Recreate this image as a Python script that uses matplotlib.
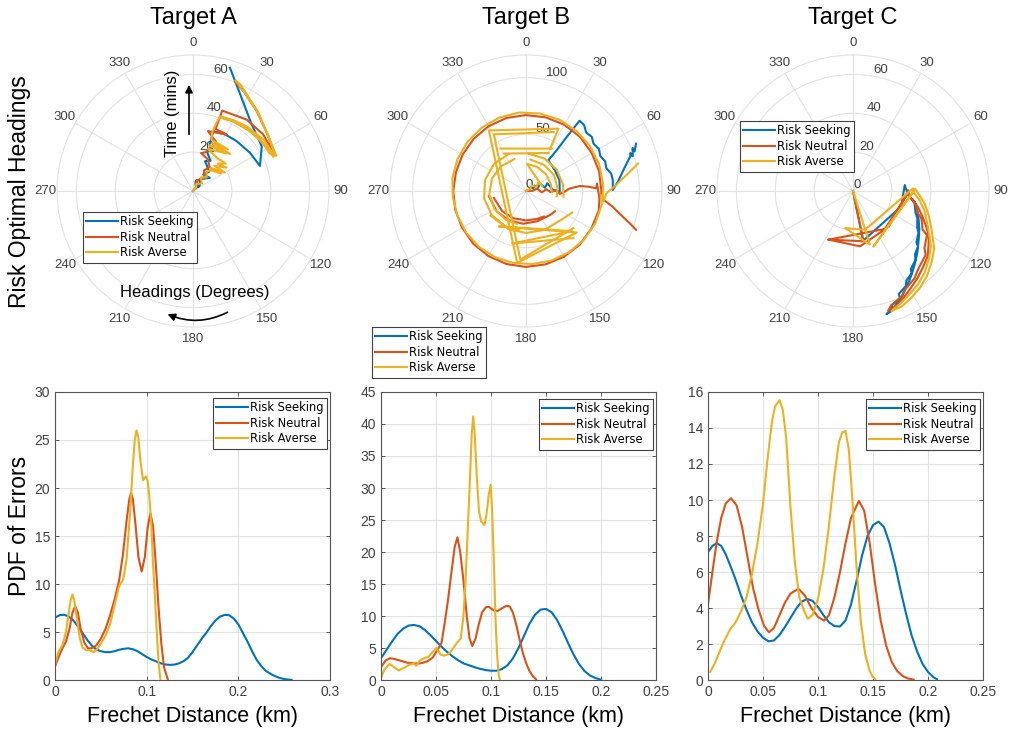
import numpy as np
import matplotlib.pyplot as plt
from matplotlib.patches import FancyArrowPatch
from matplotlib.ticker import FormatStrFormatter

plt.rcParams['font.family'] = ['Liberation Sans', 'DejaVu Sans']

nan = float('nan')

series_names = ['Risk Seeking', 'Risk Neutral', 'Risk Averse']
series_colors = ['#0072BD', '#D95319', '#EDB120']
targets = ['Target A', 'Target B', 'Target C']

# ---- optimal heading tracks: heading (deg) vs elapsed time (mins) ----
a_seek_hdg = [40, 46, 30, 52, 32, 40, 22, 30, 19, 27, 20, 18.7, 30, 41, 56, 69.5, 57, 41.3, 27.5, 16.7]
a_seek_t = [0, 5, 7, 11, 10, 13, 16.6, 18, 21.7, 23, 25, 32.6, 33.5, 34.1, 35.3, 36.8, 42.2, 45.7, 54.1, 66.2]
a_neut_hdg = [25, 38, 22, 40, 28, 35, 25, 12, 18, 22, 25, 14, 31, 20, 20, 37, 51, 62, 66, 54, 38.5, 28, 21]
a_neut_t = [0, 3, 6, 9, 12, 15, 18, 20, 21, 24, 28, 31.8, 33.9, 34, 44, 46, 46.4, 45.8, 45.5, 48, 52.6, 57, 60.5]
a_avrs_hdg = [30, 45, 25, 50, 30, 45, 35, 40, 58, 38, 60, 40, 55, 42, 50, 38, 25, 20, 42, 20, 45, 22, 40, 20,
              18, 19, 20, 30, 40, 54, 65, 64, 53, 40, 28, 22, 30, 45, 60, 67, 66, 54, 38, 28, 21, 24, 40, 56, 67]
a_avrs_t = [0, 2, 4, 6, 8, 10, 12, 14, 17, 15, 19, 17, 21, 19, 22, 21, 22, 23, 26, 25, 27, 26.5, 28, 28,
            32, 37, 41, 42, 43.3, 44.9, 45.5, 44, 43.6, 42.2, 41.2, 40.5, 41.5, 42.8, 44.2, 45, 46.2, 48, 53, 57, 61,
            60, 52.5, 47.5, 46.5]

b_seek_hdg = [60, 72, 55, 70, 58, 75, 62, 80, 70, 88, 91, 72, 54, 36, 37, 37, 37.3,
              41.5, 45.9, 50.5, 55.1, 60, 64.8, 69.5, 74.1, 78.5, 82.8,
              89.3, 83.7, 77, 71.5, 70, 72, 68, 70, 66.7]
b_seek_t = [0, 3, 5, 7, 9, 11, 14, 17, 20, 24, 29.8, 31, 31.4, 33.5, 45, 60, 78,
            77.5, 74.0, 75.2, 72.7, 74.3, 72.4, 74.6, 73.7, 76.7, 77.2,
            76.6, 82, 89, 97.1, 98, 99, 101.5, 102, 105.7]
b_neut_hdg = [75, 88, 78, 95, 85, 93, 88, 95, 91, 87, 84.7, 86, 87.8, 84, 95.6,
              105, 120, 135, 150, 165, 180, 195, 210, 225, 240, 255, 270, 285, 300, 315, 330, 345,
              0, 15, 30, 45, 60, 75, 90, 95,
              97, 100, 104, 107, 109.4, nan,
              262, 235, 210, 185, 160, 135, 125, nan,
              258, 230, 205, 180, 158, 145]
b_neut_t = [0, 6, 10, 14, 18, 22, 27, 30, 34.2, 38, 47.6, 55, 62, 63, 65.1,
            66.5, 66.5, 67, 67, 67, 67, 66.7, 66.3, 65.8, 65, 64.6, 64.2, 64, 64.5, 65.2, 66, 66.7,
            67, 67.3, 67.5, 67.5, 67, 66.8, 66.5, 66.5,
            70, 77, 86, 95, 103, nan,
            33, 31.5, 30, 29, 28.5, 30, 31.2, nan,
            29, 27.5, 26.5, 26, 26.5, 27.5]
b_avrs_hdg = [50, 65, 45, 70, 55, 75, 2, 25, 50, 75, 92, nan,
              8, 35, 60, 85, 100, nan,
              4, 30, 55, 80, 98.6, nan,
              340, 315, 290, 265, 240, 215, 195, nan,
              335, 310, 285, 260, 235, 210, 190, nan,
              235, 205, 180, 155, 130, 115, nan,
              31.4, 329, nan,
              30.6, 329.3, nan,
              29.7, 27.5, 328.5, 187, 129.3, 217.5, 131, 195, 134.8, nan,
              25, 330.4, 184.7, 128, nan,
              76.2, 80, 86, 91.6, 97.8, 93,
              100, 115, 130, 145, 160, 175, 190, 205, 220, 235, 250, 265, 280, 295, 310, 325, 340, 355,
              10, 25, 40, 55, 70, 85, 95]
b_avrs_t = [0, 4, 7, 10, 13, 15, 24, 23.5, 23, 22.8, 22.8, nan,
            28, 28, 28.5, 28, 27.5, nan,
            33, 33, 33, 33.2, 33.4, nan,
            30, 31, 32, 32.5, 32, 31, 30, nan,
            36, 37, 37.5, 37.5, 37, 36, 35, nan,
            38, 37, 37, 38, 40, 45, nan,
            43.8, 43.7, nan,
            39, 38.4, nan,
            43, 62, 62.7, 63.9, 57.8, 39.4, 54, 48, 59, nan,
            57.4, 57.5, 60.7, 53.1, nan,
            101.8, 92, 80, 71, 68.8, 66,
            68, 67.5, 66.8, 66, 65.3, 64.7, 64.5, 64.5, 64.4, 64.3, 64.3, 64.8, 66, 66.7, 67.5, 68.2, 69, 69.5,
            69.5, 69.5, 69.3, 69, 68.7, 68.3, 68]

c_seek_hdg = [165, 168.3, 107.8, 83.4, 94.1, 101.2, 109, 113, 119.6, 122.5, 129, 130.5, 135.4, 138,
              143.5, 144.5, 149.1, 151, 156, 156.4, 161, 161.8, 164.8,
              162, 158.5, 155, 151.5, 148, 144.5, 141, 137, 133, 128.5, 124, 119, 114, 108, 103]
c_seek_t = [0, 26.1, 26.1, 26.8, 28.4, 32.3, 34, 36, 38, 40, 42, 44, 45.5, 48,
            50, 52, 53.6, 56, 58, 60.3, 62, 64, 65.7,
            64.8, 62, 59.8, 57, 54.6, 52.2, 50, 47.6, 45.4, 43, 41, 39, 37, 35, 33.4]
c_neut_hdg = [168, 168.5, 206.7, 172.8, 135, 94.3, 89, 96, 100, 108.5, 112, 119, 120.8, 128.5, 131.4,
              140.5, 144.9, 152.5, 155.4, 161.5, 163.7,
              160, 155, 150, 144, 138, 131, 126, 121, 116, 110, 104, 98, nan, 206.7, 140, 100, 92]
c_neut_t = [0, 26.4, 28, 28.7, 26, 27.5, 28.3, 29.5, 32.3, 35, 38, 41, 44.3, 47, 49.8,
            52.5, 55, 57.5, 59.9, 62, 64.3,
            63.5, 61, 58.5, 56, 53.5, 51, 48, 45.5, 42, 38, 34.5, 31, nan, 28, 25.5, 26.5, 28.5]
c_avrs_hdg = [162, 162.5, 192, 162.9, 87.5, 92, 97.7, 105, 111, 115.3, 121, 125.3, 132, 138.8, 145, 151.3,
              157, 162.2, 157, 151.3, 145, 138.8, 132, 125.3, 121, 115.3, 108, 100, 93, 88, 160, 90]
c_avrs_t = [0, 28.9, 19.5, 20.9, 30.9, 31.5, 34.5, 38, 40.5, 42.6, 46, 49.2, 52.5, 55.9, 58.5, 60.6,
            62.8, 64.9, 64.5, 62.6, 60.5, 57.9, 54.5, 51.2, 48, 44.6, 41, 37.5, 34, 32, 30.5, 31.5]

# ---- PDF of Frechet distance errors ----
a_seek_x = [0, 0.005, 0.01, 0.015, 0.02, 0.025, 0.03, 0.035, 0.04, 0.045, 0.05, 0.055, 0.06, 0.065, 0.07,
            0.075, 0.08, 0.085, 0.09, 0.095, 0.1, 0.105, 0.11, 0.115, 0.12, 0.125, 0.13, 0.135, 0.14, 0.145,
            0.15, 0.155, 0.16, 0.165, 0.17, 0.175, 0.18, 0.185, 0.19, 0.195, 0.2, 0.205, 0.21, 0.215, 0.22,
            0.225, 0.23, 0.235, 0.24, 0.245, 0.25, 0.255, 0.258]
a_seek_y = [6.5, 6.75, 6.8, 6.6, 6.2, 5.6, 4.9, 4.2, 3.6, 3.2, 3.0, 2.9, 2.9, 3.0, 3.15,
            3.25, 3.3, 3.2, 3.0, 2.7, 2.4, 2.15, 1.95, 1.75, 1.62, 1.58, 1.6, 1.72, 1.95, 2.3,
            2.9, 3.6, 4.3, 4.9, 5.6, 6.2, 6.6, 6.78, 6.75, 6.4, 5.8, 4.9, 4.0, 3.0, 2.1,
            1.45, 0.95, 0.65, 0.4, 0.22, 0.1, 0.04, 0.02]
a_neut_x = [0, 0.004, 0.008, 0.012, 0.016, 0.019, 0.022, 0.025, 0.028, 0.032, 0.036, 0.04, 0.045, 0.05,
            0.055, 0.06, 0.065, 0.07, 0.074, 0.078, 0.081, 0.083, 0.085, 0.088, 0.091, 0.0945, 0.098, 0.101,
            0.104, 0.107, 0.11, 0.113, 0.116, 0.119, 0.123]
a_neut_y = [1.4, 2.4, 3.3, 4.0, 5.4, 7.0, 7.7, 7.0, 5.3, 3.9, 3.3, 3.3, 3.6, 4.3,
            5.3, 6.7, 8.4, 10.4, 13.0, 16.5, 18.8, 19.5, 18.8, 16.0, 12.8, 11.3, 12.8, 15.8,
            17.4, 16.0, 12.0, 7.5, 3.8, 1.3, 0.1]
a_avrs_x = [0, 0.004, 0.008, 0.012, 0.015, 0.017, 0.019, 0.021, 0.024, 0.027, 0.03, 0.034, 0.038, 0.042,
            0.046, 0.05, 0.055, 0.06, 0.065, 0.07, 0.0745, 0.078, 0.082, 0.085, 0.087, 0.089, 0.091, 0.093,
            0.096, 0.099, 0.101, 0.103, 0.105, 0.107, 0.109, 0.111, 0.113, 0.115]
a_avrs_y = [1.6, 3.0, 3.6, 5.0, 7.0, 8.3, 8.9, 8.3, 6.3, 4.4, 3.4, 3.1, 3.1, 2.9,
            3.2, 3.8, 4.6, 5.8, 7.8, 9.8, 10.5, 12.5, 17.5, 22.5, 25.0, 26.0, 25.2, 23.0,
            20.8, 21.2, 20.8, 19.0, 16.3, 12.0, 8.7, 5.0, 1.8, 0.05]

b_seek_x = [0, 0.005, 0.01, 0.015, 0.02, 0.025, 0.03, 0.035, 0.04, 0.045, 0.05, 0.055, 0.06, 0.065, 0.07,
            0.075, 0.08, 0.085, 0.09, 0.095, 0.1, 0.105, 0.11, 0.115, 0.12, 0.125, 0.13, 0.135, 0.14, 0.145,
            0.15, 0.155, 0.16, 0.165, 0.17, 0.175, 0.18, 0.185, 0.19, 0.195, 0.2]
b_seek_y = [3.4, 4.7, 6.0, 7.2, 8.0, 8.5, 8.6, 8.4, 7.8, 7.0, 6.1, 5.2, 4.4, 3.7, 3.1,
            2.6, 2.3, 2.0, 1.75, 1.55, 1.45, 1.45, 1.7, 2.3, 3.4, 5.0, 6.9, 8.8, 10.2, 11.0,
            11.1, 10.6, 9.4, 7.7, 5.8, 4.0, 2.5, 1.4, 0.7, 0.3, 0.05]
b_neut_x = [0, 0.004, 0.008, 0.012, 0.018, 0.024, 0.03, 0.036, 0.042, 0.047, 0.051, 0.055, 0.058, 0.061,
            0.064, 0.067, 0.0695, 0.072, 0.075, 0.078, 0.0805, 0.083, 0.086, 0.089, 0.092, 0.0955, 0.0985,
            0.102, 0.106, 0.11, 0.114, 0.117, 0.12, 0.123, 0.126, 0.129, 0.132, 0.135, 0.138, 0.141]
b_neut_y = [2.0, 3.0, 3.4, 3.3, 3.0, 2.7, 2.6, 2.6, 2.9, 3.5, 4.6, 5.8, 9.0, 12.6,
            16.8, 20.8, 22.3, 20.0, 15.5, 10.0, 6.5, 5.3, 6.5, 8.8, 10.6, 11.4, 11.4,
            10.9, 10.8, 11.2, 11.6, 11.5, 10.5, 8.6, 6.3, 4.2, 2.6, 1.4, 0.6, 0.1]
b_avrs_x = [0, 0.003, 0.0076, 0.012, 0.016, 0.021, 0.026, 0.03, 0.032, 0.035, 0.039, 0.043, 0.047, 0.0505,
            0.054, 0.057, 0.061, 0.065, 0.069, 0.0725, 0.075, 0.077, 0.079, 0.081, 0.0825, 0.0838, 0.085,
            0.087, 0.089, 0.091, 0.094, 0.096, 0.098, 0.0997, 0.101, 0.1025, 0.104, 0.1055, 0.107, 0.108]
b_avrs_y = [0.3, 1.6, 2.5, 2.0, 1.5, 1.9, 2.4, 2.6, 2.2, 3.0, 3.4, 3.6, 4.4, 5.0,
            4.0, 3.8, 4.0, 4.8, 5.8, 6.5, 10.0, 16.0, 24.0, 32.0, 38.5, 41.2, 39.0,
            32.0, 26.5, 24.8, 24.2, 26.0, 29.0, 30.5, 26.5, 19.0, 10.0, 4.0, 0.8, 0.05]

c_seek_x = [0, 0.004, 0.008, 0.012, 0.016, 0.02, 0.025, 0.03, 0.035, 0.04, 0.045, 0.05, 0.055, 0.06, 0.065,
            0.07, 0.075, 0.08, 0.085, 0.09, 0.095, 0.1, 0.105, 0.11, 0.115, 0.12, 0.125, 0.13, 0.135, 0.14,
            0.145, 0.15, 0.155, 0.16, 0.165, 0.17, 0.175, 0.18, 0.185, 0.19, 0.195, 0.2, 0.205, 0.208]
c_seek_y = [7.1, 7.45, 7.6, 7.45, 7.0, 6.4, 5.6, 4.7, 3.9, 3.2, 2.7, 2.35, 2.15, 2.2, 2.5,
            2.95, 3.45, 3.95, 4.35, 4.5, 4.4, 4.05, 3.6, 3.2, 3.0, 2.97, 3.3, 4.2, 5.5, 6.9,
            8.0, 8.6, 8.8, 8.5, 7.6, 6.4, 5.0, 3.7, 2.5, 1.6, 0.9, 0.45, 0.15, 0.05]
c_neut_x = [0, 0.004, 0.008, 0.012, 0.016, 0.021, 0.026, 0.031, 0.036, 0.041, 0.046, 0.051, 0.0555, 0.06,
            0.065, 0.07, 0.075, 0.0822, 0.088, 0.094, 0.1, 0.1055, 0.11, 0.115, 0.12, 0.125, 0.13, 0.1372,
            0.142, 0.147, 0.152, 0.157, 0.162, 0.167, 0.172, 0.177, 0.182, 0.187]
c_neut_y = [4.2, 6.0, 7.7, 9.0, 9.8, 10.1, 9.7, 8.5, 6.8, 5.1, 3.9, 3.0, 2.65, 2.9,
            3.6, 4.3, 4.8, 5.07, 4.7, 4.0, 3.5, 3.3, 3.6, 4.6, 6.0, 7.6, 9.0, 9.95,
            9.4, 7.6, 5.3, 3.3, 1.9, 1.0, 0.5, 0.22, 0.08, 0.02]
c_avrs_x = [0.002, 0.006, 0.01, 0.015, 0.02, 0.025, 0.03, 0.035, 0.04, 0.045, 0.05, 0.054, 0.058, 0.061,
            0.065, 0.068, 0.071, 0.075, 0.079, 0.083, 0.087, 0.0907, 0.095, 0.1, 0.105, 0.11, 0.115, 0.119,
            0.122, 0.125, 0.128, 0.131, 0.135, 0.139, 0.143, 0.147, 0.15, 0.152]
c_avrs_y = [0.45, 0.9, 1.5, 2.2, 2.8, 3.2, 3.8, 4.6, 5.9, 7.6, 9.8, 12.2, 14.3, 15.2,
            15.55, 15.0, 13.5, 9.6, 6.5, 4.6, 3.9, 3.4, 3.6, 4.5, 6.2, 8.6, 11.4, 13.2,
            13.75, 13.84, 12.8, 10.3, 6.3, 3.2, 1.4, 0.5, 0.15, 0.05]

W, H = 1014, 730
TICK_COLOR = '#404040'
GRID_COLOR = '#e2e2e2'

fig = plt.figure(figsize=(W / 100, H / 100), dpi=100)


def px_rect(left, top, width, height):
    return [left / W, 1 - (top + height) / H, width / W, height / H]


def add_legend(ax, x, y):
    leg = ax.legend(loc='upper left', bbox_to_anchor=(x / W, 1 - y / H),
                    bbox_transform=fig.transFigure, frameon=True,
                    prop={'family': 'DejaVu Sans', 'size': 8.3},
                    fancybox=False, framealpha=1, edgecolor='#404040', borderpad=0.3,
                    labelspacing=0.2, handlelength=2.7, handletextpad=0.2, borderaxespad=0)
    leg.get_frame().set_linewidth(0.8)
    return leg


def polar_panel(cx, tracks, rmax, rticks, legend_xy, title):
    ax = fig.add_axes(px_rect(cx - 136, 191 - 136, 272, 272), projection='polar')
    ax.set_theta_zero_location('N')
    ax.set_theta_direction(-1)
    for (hdg, t), color, name in zip(tracks, series_colors, series_names):
        ax.plot(np.radians(hdg), t, color=color, lw=1.5, label=name)
    ax.set_ylim(0, rmax)
    ax.set_yticks(rticks)
    ax.set_rlabel_position(10)
    angles = np.arange(0, 360, 30)
    ax.set_thetagrids(angles, [str(a) for a in angles])
    ax.grid(True, color=GRID_COLOR, lw=0.8)
    ax.spines['polar'].set_edgecolor(GRID_COLOR)
    ax.tick_params(labelsize=9.5, colors=TICK_COLOR, length=0)
    ax.tick_params(axis='x', pad=1.5)
    ax.tick_params(axis='y', pad=-2)
    add_legend(ax, *legend_xy)
    fig.text(cx / W, 1 - 18 / H, title, ha='center', va='center', fontsize=17)
    return ax


def pdf_panel(left, curves, xmax, xticks, ymax, yticks, legend_xy):
    ax = fig.add_axes(px_rect(left, 392, 275, 288))
    for (x, y), color, name in zip(curves, series_colors, series_names):
        ax.plot(x, y, color=color, lw=1.5, label=name)
    ax.set_xlim(0, xmax)
    ax.set_ylim(0, ymax)
    ax.set_xticks(xticks)
    ax.set_yticks(yticks)
    ax.xaxis.set_major_formatter(FormatStrFormatter('%g'))
    ax.grid(True, color=GRID_COLOR, lw=0.8)
    ax.set_axisbelow(True)
    ax.tick_params(direction='in', top=True, right=True, length=3, width=0.6,
                   labelsize=10, colors=TICK_COLOR)
    for sp in ax.spines.values():
        sp.set_edgecolor('#555555')
        sp.set_linewidth(0.8)
    ax.set_xlabel('Frechet Distance (km)', fontsize=15.5, labelpad=5)
    add_legend(ax, *legend_xy)
    return ax


ax_a = polar_panel(193, [(a_seek_hdg, a_seek_t), (a_neut_hdg, a_neut_t), (a_avrs_hdg, a_avrs_t)],
                   70, [0, 20, 40, 60], (83, 212), targets[0])
ax_b = polar_panel(526, [(b_seek_hdg, b_seek_t), (b_neut_hdg, b_neut_t), (b_avrs_hdg, b_avrs_t)],
                   120, [0, 50, 100], (372, 327), targets[1])
ax_c = polar_panel(853, [(c_seek_hdg, c_seek_t), (c_neut_hdg, c_neut_t), (c_avrs_hdg, c_avrs_t)],
                   70, [0, 20, 40, 60], (740, 121), targets[2])

pdf_panel(55, [(a_seek_x, a_seek_y), (a_neut_x, a_neut_y), (a_avrs_x, a_avrs_y)],
          0.3, [0, 0.1, 0.2, 0.3], 30, np.arange(0, 31, 5), (213, 398))
pdf_panel(381, [(b_seek_x, b_seek_y), (b_neut_x, b_neut_y), (b_avrs_x, b_avrs_y)],
          0.25, np.arange(0, 0.26, 0.05), 45, np.arange(0, 46, 5), (539, 399))
pdf_panel(708, [(c_seek_x, c_seek_y), (c_neut_x, c_neut_y), (c_avrs_x, c_avrs_y)],
          0.25, np.arange(0, 0.26, 0.05), 16, np.arange(0, 17, 2), (866, 399))

# row labels
fig.text(20 / W, 1 - 192 / H, 'Risk Optimal Headings', rotation=90, ha='center', va='center', fontsize=16.5)
fig.text(20 / W, 1 - 526 / H, 'PDF of Errors', rotation=90, ha='center', va='center', fontsize=16.5)

# reading guides on the first polar panel
fig.text(173 / W, 1 - 113 / H, 'Time (mins)', rotation=90, ha='center', va='center', fontsize=12)
fig.add_artist(FancyArrowPatch((189 / W, 1 - 137 / H), (189 / W, 1 - 82 / H), transform=fig.transFigure,
                               arrowstyle='-|>', mutation_scale=11, lw=1.2, color='black'))
fig.text(195 / W, 1 - 293 / H, 'Headings (Degrees)', ha='center', va='center', fontsize=12)
fig.add_artist(FancyArrowPatch((230 / W, 1 - 311 / H), (165 / W, 1 - 313 / H), transform=fig.transFigure,
                               arrowstyle='-|>', connectionstyle='arc3,rad=-0.25',
                               mutation_scale=11, lw=1.2, color='black'))

fig.savefig('out.png', dpi=100)
